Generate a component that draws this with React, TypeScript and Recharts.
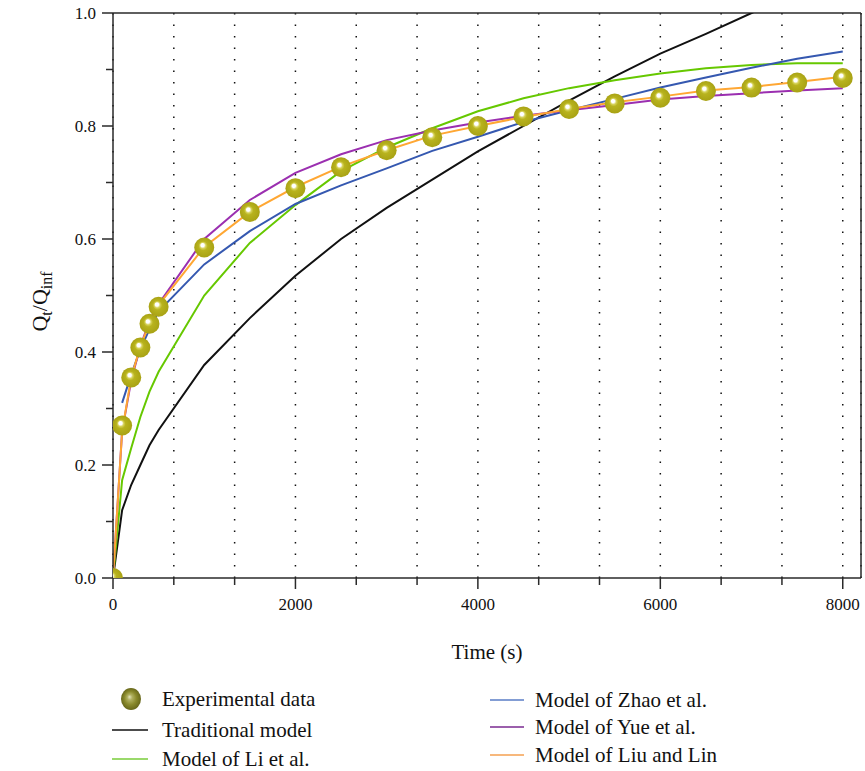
import React from 'react';
import { ComposedChart, Line, Scatter, XAxis, YAxis, CartesianGrid, Legend, ReferenceLine } from 'recharts';

const timeS = [0, 100, 200, 300, 400, 500, 1000, 1500, 2000, 2500, 3000, 3500, 4000, 4500, 5000, 5500, 6000, 6500, 7000, 7500, 8000];
const experimental = [0, 0.27, 0.355, 0.408, 0.45, 0.48, 0.585, 0.648, 0.69, 0.727, 0.757, 0.78, 0.8, 0.817, 0.83, 0.84, 0.85, 0.862, 0.868, 0.877, 0.885];
const traditionalModel = [0, 0.12, 0.165, 0.2, 0.235, 0.262, 0.377, 0.46, 0.535, 0.6, 0.655, 0.705, 0.755, 0.8, 0.845, 0.888, 0.928, 0.963, 1.0, 1.035, 1.07];
const liModel = [0, 0.173, 0.23, 0.285, 0.33, 0.365, 0.5, 0.593, 0.66, 0.72, 0.762, 0.796, 0.826, 0.849, 0.867, 0.881, 0.893, 0.902, 0.908, 0.911, 0.911];
const zhaoModel = [null, 0.31, 0.36, 0.405, 0.44, 0.472, 0.555, 0.614, 0.662, 0.695, 0.725, 0.756, 0.781, 0.807, 0.828, 0.848, 0.868, 0.886, 0.903, 0.919, 0.932];
const yueModel = [0, 0.26, 0.35, 0.41, 0.455, 0.485, 0.6, 0.669, 0.717, 0.75, 0.775, 0.792, 0.806, 0.818, 0.828, 0.837, 0.847, 0.853, 0.858, 0.863, 0.867];
const liuModel = [0, 0.26, 0.355, 0.41, 0.45, 0.483, 0.586, 0.648, 0.692, 0.728, 0.757, 0.783, 0.8, 0.816, 0.83, 0.842, 0.852, 0.863, 0.869, 0.878, 0.887];

const xTicks = [0, 666.667, 1333.333, 2000, 2666.667, 3333.333, 4000, 4666.667, 5333.333, 6000, 6666.667, 7333.333, 8000];
const xMajorLabels = [0, 2000, 4000, 6000, 8000];
const yTicks = [0, 0.1, 0.2, 0.3, 0.4, 0.5, 0.6, 0.7, 0.8, 0.9, 1.0];
const yMajorLabels = ['0.0', '0.2', '0.4', '0.6', '0.8', '1.0'];

const seriesNames = {
  exp: 'Experimental data',
  trad: 'Traditional model',
  li: 'Model of Li et al.',
  zhao: 'Model of Zhao et al.',
  yue: 'Model of Yue et al.',
  liu: 'Model of Liu and Lin',
};

const COLORS = {
  trad: '#111111',
  li: '#66c800',
  zhao: '#3558b0',
  yue: '#9b2fb0',
  liu: '#ffa733',
};
const LEGEND_COLORS = {
  trad: '#111111',
  li: '#78cc3a',
  zhao: '#5a7cc6',
  yue: '#7a2a90',
  liu: '#f4a050',
};

const FONT = '"Liberation Serif", "Times New Roman", serif';
const AXIS = '#2a2a2a';
const W = 865;
const H = 771;

const data = timeS.map((t, i) => ({
  time: t,
  exp: experimental[i],
  trad: traditionalModel[i],
  li: liModel[i],
  zhao: zhaoModel[i],
  yue: yueModel[i],
  liu: liuModel[i],
}));

const XTick = (props: any) => {
  const { x, y, payload } = props;
  const v = payload.value;
  const label = xMajorLabels.find((m) => Math.abs(m - v) < 1);
  const major = label !== undefined;
  return (
    <g>
      <line x1={x} y1={y} x2={x} y2={y + (major ? 11 : 7)} stroke={AXIS} strokeWidth={1.5} />
      {major && (
        <text x={x} y={y + 32} textAnchor="middle" fontFamily={FONT} fontSize={17} fill="#111">
          {String(label)}
        </text>
      )}
    </g>
  );
};

const YTick = (props: any) => {
  const { x, y, payload } = props;
  const v = payload.value;
  const txt = v.toFixed(1);
  const major = yMajorLabels.includes(txt);
  return (
    <g>
      <line x1={x - (major ? 11 : 7)} y1={y} x2={x} y2={y} stroke={AXIS} strokeWidth={1.5} />
      {major && (
        <text x={x - 17} y={y + 6} textAnchor="end" fontFamily={FONT} fontSize={17} fill="#111">
          {txt}
        </text>
      )}
    </g>
  );
};

const Sphere = (props: any) => {
  const { cx, cy, index } = props;
  if (cx == null || cy == null) return null;
  const id = `sph-${index}`;
  return (
    <g>
      <defs>
        <radialGradient id={id} cx="0.5" cy="0.5" r="0.5" fx="0.4" fy="0.36">
          <stop offset="0" stopColor="#ffffff" />
          <stop offset="0.17" stopColor="#ffffff" />
          <stop offset="0.3" stopColor="#d6d25a" />
          <stop offset="0.46" stopColor="#b8b31e" />
          <stop offset="1" stopColor="#a8a214" />
        </radialGradient>
      </defs>
      <circle cx={cx} cy={cy} r={10} fill={`url(#${id})`} />
    </g>
  );
};

const LegendContent = () => {
  const left = [
    { key: 'exp', y: 23 },
    { key: 'trad', y: 54 },
    { key: 'li', y: 83 },
  ];
  const right = [
    { key: 'zhao', y: 24 },
    { key: 'yue', y: 51 },
    { key: 'liu', y: 79 },
  ];
  return (
    <div style={{ position: 'relative', width: W, height: 95 }}>
      <svg width={W} height={95} style={{ position: 'absolute', left: 0, top: 0, overflow: 'visible' }}>
        <defs>
          <radialGradient id="legSphere" cx="0.5" cy="0.5" r="0.5" fx="0.42" fy="0.4">
            <stop offset="0" stopColor="#e4e4bc" />
            <stop offset="0.25" stopColor="#b0b060" />
            <stop offset="0.6" stopColor="#8a8a2c" />
            <stop offset="1" stopColor="#67671a" />
          </radialGradient>
        </defs>
        <ellipse cx={131} cy={left[0].y} rx={10} ry={11} fill="url(#legSphere)" />
        {left.slice(1).map((it) => (
          <line key={it.key} x1={112} x2={148} y1={it.y} y2={it.y} stroke={(LEGEND_COLORS as any)[it.key]} strokeWidth={1.5} />
        ))}
        {right.map((it) => (
          <line key={it.key} x1={490} x2={524} y1={it.y} y2={it.y} stroke={(LEGEND_COLORS as any)[it.key]} strokeWidth={1.5} />
        ))}
        {left.map((it) => (
          <text key={it.key} x={162} y={it.y + 7} fontFamily={FONT} fontSize={21} fill="#111">
            {(seriesNames as any)[it.key]}
          </text>
        ))}
        {right.map((it) => (
          <text key={it.key} x={535} y={it.y + 7} fontFamily={FONT} fontSize={21} fill="#111">
            {(seriesNames as any)[it.key]}
          </text>
        ))}
      </svg>
    </div>
  );
};

const YLabel = (props: any) => {
  const vb = props.viewBox || {};
  const cx = 47;
  const cy = vb.y + vb.height / 2 + 6;
  return (
    <text transform={`translate(${cx},${cy}) rotate(-90)`} textAnchor="middle" fontFamily={FONT} fontSize={22} fill="#111">
      <tspan>Q</tspan>
      <tspan fontSize={16} dy={5}>t</tspan>
      <tspan dy={-5}>/Q</tspan>
      <tspan fontSize={16} dy={5}>inf</tspan>
    </text>
  );
};

const XLabel = (props: any) => {
  const vb = props.viewBox || {};
  return (
    <text x={vb.x + vb.width / 2} y={vb.y + 81} textAnchor="middle" fontFamily={FONT} fontSize={21} fill="#111">
      Time (s)
    </text>
  );
};

export default function App() {
  return (
    <div style={{ position: 'absolute', left: 0, top: 0, width: W, height: H }}>
      <ComposedChart width={W} height={H} data={data} margin={{ top: 13, right: 4, left: 0, bottom: 0 }}>
        <CartesianGrid horizontal={false} vertical={true} stroke="#111" strokeWidth={1.5} strokeDasharray="1.5 10" />
        <XAxis
          dataKey="time"
          type="number"
          domain={[0, 8200]}
          ticks={xTicks}
          allowDataOverflow
          height={98}
          tickSize={0}
          tickMargin={0}
          tickLine={false}
          tick={<XTick />}
          stroke={AXIS}
          strokeWidth={1.5}
          label={{ content: <XLabel /> }}
          interval={0}
        />
        <YAxis
          type="number"
          domain={[0, 1]}
          ticks={yTicks}
          allowDataOverflow
          width={113}
          tickSize={0}
          tickMargin={0}
          tickLine={false}
          tick={<YTick />}
          stroke={AXIS}
          strokeWidth={1.5}
          label={{ content: <YLabel /> }}
          interval={0}
        />
        <ReferenceLine y={1} stroke={AXIS} strokeWidth={1.5} ifOverflow="visible" />
        <ReferenceLine x={8200} stroke={AXIS} strokeWidth={1.5} ifOverflow="visible" />
        <Scatter name={seriesNames.exp} dataKey="exp" shape={<Sphere />} isAnimationActive={false} />
        <Line name={seriesNames.trad} dataKey="trad" type="linear" stroke={COLORS.trad} strokeWidth={2} dot={false} isAnimationActive={false} />
        <Line name={seriesNames.li} dataKey="li" type="linear" stroke={COLORS.li} strokeWidth={2} dot={false} isAnimationActive={false} />
        <Line name={seriesNames.zhao} dataKey="zhao" type="linear" stroke={COLORS.zhao} strokeWidth={2} dot={false} isAnimationActive={false} />
        <Line name={seriesNames.yue} dataKey="yue" type="linear" stroke={COLORS.yue} strokeWidth={2} dot={false} isAnimationActive={false} />
        <Line name={seriesNames.liu} dataKey="liu" type="linear" stroke={COLORS.liu} strokeWidth={2} dot={false} isAnimationActive={false} />
        <Legend verticalAlign="bottom" content={<LegendContent />} wrapperStyle={{ left: 0, width: W, height: 95 }} />
      </ComposedChart>
    </div>
  );
}
